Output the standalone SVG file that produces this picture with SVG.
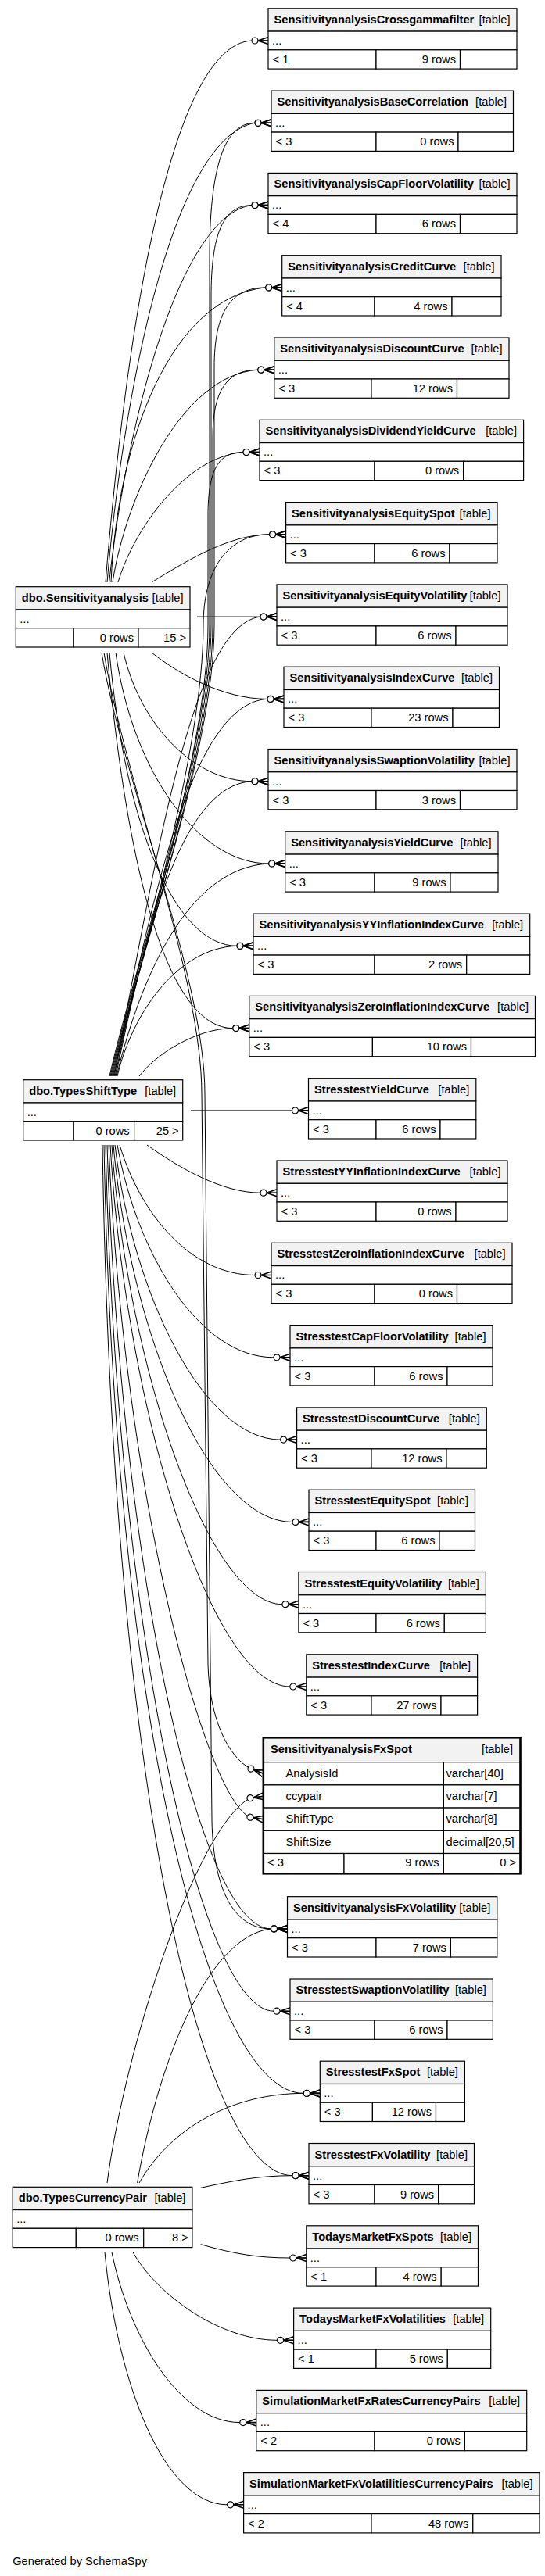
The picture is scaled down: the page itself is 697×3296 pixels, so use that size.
<svg xmlns="http://www.w3.org/2000/svg" width="697" height="3296" viewBox="0 0 697 3296">
<style>
.h{fill:#f2f2f2;stroke:#000;stroke-width:1.2}
.c{fill:#fff;stroke:#000;stroke-width:1.2}
.t{font-family:"Liberation Sans",Arial,sans-serif;font-size:14.67px;fill:#000}
.b{font-weight:bold}
.e{text-anchor:end}
#edges path{fill:none;stroke:#000;stroke-width:1;marker-end:url(#cf)}
</style>
<defs>
<marker id="cf" markerUnits="userSpaceOnUse" markerWidth="24" markerHeight="14" viewBox="-23 -7 24 14" refX="0" refY="0" orient="auto" overflow="visible">
<path d="M-13,0 L0,-4.5 M-13,0 L0,4.5 M-13,0 L0,0" fill="none" stroke="#000" stroke-width="1.6"/>
<circle cx="-17" cy="0" r="4" fill="#fff" stroke="#000" stroke-width="1.2"/>
</marker>
</defs>
<rect x="0" y="0" width="697" height="3296" fill="#fff"/>
<g id="edges">
<path d="M135,745 C160,440 215,58 322,52 L343,52"/>
<path d="M137,745 C160,480 225,175 326,157.3 L347,157.3"/>
<path d="M139.6,745 C162,540 230,275 322,262.6 L343,262.6"/>
<path d="M142,745 C150,560 220,380 339.7,367.9 L360.7,367.9"/>
<path d="M144,745 C160,640 230,480 329.8,473.2 L350.8,473.2"/>
<path d="M151,745 C170,680 235,585 311,578.5 L332,578.5"/>
<path d="M194,745 C232,722 290,684 344.6,683.8 L365.6,683.8"/>
<path d="M252,789.1 L354,789.1"/>
<path d="M194,835 C228,862 285,894.4 342,894.4 L363,894.4"/>
<path d="M158,835 C180,930 250,999.7 322,999.7 L343,999.7"/>
<path d="M148,835 C170,990 255,1105 343.7,1105 L364.7,1105"/>
<path d="M140,835 C160,1060 225,1210.3 303,1210.3 L324,1210.3"/>
<path d="M137,835 C165,1140 220,1315.6 297.8,1315.6 L318.8,1315.6"/>
<path d="M133,835 C160,1000 258,1250 258,1400 L266,2130 C268,2200 292,2248 320.5,2263 L336.8,2269.2"/>
<path d="M130,835 C157,1000 262,1250 262,1400 L271,2330 C273,2420 300,2467.9 346.5,2467.9 L367.5,2467.9"/>
<path d="M140,1377 C176,1220 268,960 268,800 L268,330 C268,220 285,157.3 326,157.3 L347,157.3"/>
<path d="M141,1377 C177,1220 270,960 270,800 L270,380 C270,300 285,262.6 322,262.6 L343,262.6"/>
<path d="M142,1377 C178,1220 274,960 274,800 L274,470 C274,400 295,367.9 339.7,367.9 L360.7,367.9"/>
<path d="M143,1377 C179,1220 272,960 272,800 L272,560 C272,500 290,473.2 329.8,473.2 L350.8,473.2"/>
<path d="M144,1377 C180,1220 266,960 266,800 L266,660 C266,600 280,578.5 311,578.5 L332,578.5"/>
<path d="M145,1377 C181,1220 260,960 260,800 C260,730 290,683.8 344.6,683.8 L365.6,683.8"/>
<path d="M146,1377 C200,1100 245,800 333,789.1 L354,789.1"/>
<path d="M147,1377 C195,1150 245,900 342,894.4 L363,894.4"/>
<path d="M148,1377 C185,1200 230,1005 322,999.7 L343,999.7"/>
<path d="M149,1377 C180,1250 240,1110 343.7,1105 L364.7,1105"/>
<path d="M150,1377 C168,1300 225,1213 303,1210.3 L324,1210.3"/>
<path d="M178,1377 C198,1350 250,1316 297.8,1315.6 L318.8,1315.6"/>
<path d="M244,1420.9 L394.5,1420.9"/>
<path d="M188,1465 C230,1495 285,1526.2 333,1526.2 L354,1526.2"/>
<path d="M153,1465 C180,1555 245,1631.5 326,1631.5 L347,1631.5"/>
<path d="M150,1465 C175,1605 255,1736.8 350,1736.8 L371,1736.8"/>
<path d="M147,1465 C170,1660 262,1842.1 358.6,1842.1 L379.6,1842.1"/>
<path d="M145,1465 C167,1710 268,1947.4 374,1947.4 L395,1947.4"/>
<path d="M143,1465 C164,1760 270,2052.7 360.9,2052.7 L381.9,2052.7"/>
<path d="M141,1465 C161,1810 272,2158 370.8,2158 L391.8,2158"/>
<path d="M139,1465 C158,1910 262,2300 319.8,2325.2 L336.8,2327.7"/>
<path d="M137,1465 C154,2010 255,2467.9 346.5,2467.9 L367.5,2467.9"/>
<path d="M135,1465 C150,2110 260,2573.2 350,2573.2 L371,2573.2"/>
<path d="M133,1465 C147,2210 268,2678.4 388.3,2678.4 L409.3,2678.4"/>
<path d="M131,1465 C144,2310 262,2783.7 374,2783.7 L395,2783.7"/>
<path d="M137,2793 C160,2620 250,2340 319.5,2300.7 L336.8,2298.3"/>
<path d="M175.6,2793 C200,2650 262,2478 346.5,2467.9 L367.5,2467.9"/>
<path d="M178,2793 C220,2720 300,2678.4 388.3,2678.4 L409.3,2678.4"/>
<path d="M256.7,2799.3 C300,2790 330,2783.7 374,2783.7 L395,2783.7"/>
<path d="M256.7,2871.7 C300,2884 330,2889 370.8,2889 L391.8,2889"/>
<path d="M170,2881.7 C200,2935 280,2994.3 354.6,2994.3 L375.6,2994.3"/>
<path d="M143,2881.7 C165,2990 230,3099.6 306.8,3099.6 L327.8,3099.6"/>
<path d="M134,2881.7 C150,3050 210,3204.8 290.6,3204.8 L311.6,3204.8"/>
</g>
<g id="n-sa">
<rect class="h" x="20.3" y="750.7" width="222.7" height="29.3"/>
<rect class="c" x="20.3" y="780" width="222.7" height="23.7"/>
<rect class="c" x="20.3" y="803.7" width="73.7" height="24.3"/>
<rect class="c" x="94" y="803.7" width="83" height="24.3"/>
<rect class="c" x="177" y="803.7" width="66" height="24.3"/>
<text class="t b" x="27.8" y="769.7">dbo.Sensitivityanalysis</text>
<text class="t e" x="234.5" y="769.7">[table]</text>
<text class="t" x="25.3" y="796.7">...</text>
<text class="t e" x="171" y="820.7">0 rows</text>
<text class="t e" x="238" y="820.7">15 &gt;</text>
</g>
<g id="n-st">
<rect class="h" x="29.7" y="1381.7" width="204" height="29.3"/>
<rect class="c" x="29.7" y="1411" width="204" height="23.7"/>
<rect class="c" x="29.7" y="1434.7" width="64.3" height="24.3"/>
<rect class="c" x="94" y="1434.7" width="77.6" height="24.3"/>
<rect class="c" x="171.6" y="1434.7" width="62.1" height="24.3"/>
<text class="t b" x="37.2" y="1400.7">dbo.TypesShiftType</text>
<text class="t e" x="225.2" y="1400.7">[table]</text>
<text class="t" x="34.7" y="1427.7">...</text>
<text class="t e" x="165.6" y="1451.7">0 rows</text>
<text class="t e" x="228.7" y="1451.7">25 &gt;</text>
</g>
<g id="n-cp">
<rect class="h" x="16.2" y="2798.3" width="229.7" height="29.3"/>
<rect class="c" x="16.2" y="2827.6" width="229.7" height="23.7"/>
<rect class="c" x="16.2" y="2851.3" width="81.1" height="24.3"/>
<rect class="c" x="97.3" y="2851.3" width="86.4" height="24.3"/>
<rect class="c" x="183.7" y="2851.3" width="62.2" height="24.3"/>
<text class="t b" x="23.7" y="2817.3">dbo.TypesCurrencyPair</text>
<text class="t e" x="237.4" y="2817.3">[table]</text>
<text class="t" x="21.2" y="2844.3">...</text>
<text class="t e" x="177.7" y="2868.3">0 rows</text>
<text class="t e" x="240.9" y="2868.3">8 &gt;</text>
</g>
<g id="n-crossgamma">
<rect class="h" x="343" y="10.8" width="318" height="29.3"/>
<rect class="c" x="343" y="40.1" width="318" height="23.7"/>
<rect class="c" x="343" y="63.8" width="138" height="24.3"/>
<rect class="c" x="481" y="63.8" width="107.5" height="24.3"/>
<rect class="c" x="588.5" y="63.8" width="72.5" height="24.3"/>
<text class="t b" x="350.5" y="29.8">SensitivityanalysisCrossgammafilter</text>
<text class="t e" x="652.5" y="29.8">[table]</text>
<text class="t" x="348" y="56.8">...</text>
<text class="t" x="348.5" y="80.8">&lt; 1</text>
<text class="t e" x="583" y="80.8">9 rows</text>
</g>
<g id="n-basecorrelation">
<rect class="h" x="347" y="116.1" width="309.5" height="29.3"/>
<rect class="c" x="347" y="145.4" width="309.5" height="23.7"/>
<rect class="c" x="347" y="169.1" width="134" height="24.3"/>
<rect class="c" x="481" y="169.1" width="105" height="24.3"/>
<rect class="c" x="586" y="169.1" width="70.5" height="24.3"/>
<text class="t b" x="354.5" y="135.1">SensitivityanalysisBaseCorrelation</text>
<text class="t e" x="648" y="135.1">[table]</text>
<text class="t" x="352" y="162.1">...</text>
<text class="t" x="352.5" y="186.1">&lt; 3</text>
<text class="t e" x="580.5" y="186.1">0 rows</text>
</g>
<g id="n-capfloor">
<rect class="h" x="343" y="221.4" width="318" height="29.3"/>
<rect class="c" x="343" y="250.7" width="318" height="23.7"/>
<rect class="c" x="343" y="274.4" width="138" height="24.3"/>
<rect class="c" x="481" y="274.4" width="107.5" height="24.3"/>
<rect class="c" x="588.5" y="274.4" width="72.5" height="24.3"/>
<text class="t b" x="350.5" y="240.4">SensitivityanalysisCapFloorVolatility</text>
<text class="t e" x="652.5" y="240.4">[table]</text>
<text class="t" x="348" y="267.4">...</text>
<text class="t" x="348.5" y="291.4">&lt; 4</text>
<text class="t e" x="583" y="291.4">6 rows</text>
</g>
<g id="n-creditcurve">
<rect class="h" x="360.7" y="326.7" width="280.3" height="29.3"/>
<rect class="c" x="360.7" y="356" width="280.3" height="23.7"/>
<rect class="c" x="360.7" y="379.7" width="118.3" height="24.3"/>
<rect class="c" x="479" y="379.7" width="99" height="24.3"/>
<rect class="c" x="578" y="379.7" width="63" height="24.3"/>
<text class="t b" x="368.2" y="345.7">SensitivityanalysisCreditCurve</text>
<text class="t e" x="632.5" y="345.7">[table]</text>
<text class="t" x="365.7" y="372.7">...</text>
<text class="t" x="366.2" y="396.7">&lt; 4</text>
<text class="t e" x="572.5" y="396.7">4 rows</text>
</g>
<g id="n-discountcurve">
<rect class="h" x="350.8" y="432" width="300.2" height="29.3"/>
<rect class="c" x="350.8" y="461.3" width="300.2" height="23.7"/>
<rect class="c" x="350.8" y="485" width="124.2" height="24.3"/>
<rect class="c" x="475" y="485" width="109.5" height="24.3"/>
<rect class="c" x="584.5" y="485" width="66.5" height="24.3"/>
<text class="t b" x="358.3" y="451">SensitivityanalysisDiscountCurve</text>
<text class="t e" x="642.5" y="451">[table]</text>
<text class="t" x="355.8" y="478">...</text>
<text class="t" x="356.3" y="502">&lt; 3</text>
<text class="t e" x="579" y="502">12 rows</text>
</g>
<g id="n-dividendyieldcurve">
<rect class="h" x="332" y="537.3" width="337.6" height="29.3"/>
<rect class="c" x="332" y="566.6" width="337.6" height="23.7"/>
<rect class="c" x="332" y="590.3" width="147" height="24.3"/>
<rect class="c" x="479" y="590.3" width="113.6" height="24.3"/>
<rect class="c" x="592.6" y="590.3" width="77" height="24.3"/>
<text class="t b" x="339.5" y="556.3">SensitivityanalysisDividendYieldCurve</text>
<text class="t e" x="661.1" y="556.3">[table]</text>
<text class="t" x="337" y="583.3">...</text>
<text class="t" x="337.5" y="607.3">&lt; 3</text>
<text class="t e" x="587.1" y="607.3">0 rows</text>
</g>
<g id="n-equityspot">
<rect class="h" x="365.6" y="642.6" width="270.4" height="29.3"/>
<rect class="c" x="365.6" y="671.9" width="270.4" height="23.7"/>
<rect class="c" x="365.6" y="695.6" width="113.4" height="24.3"/>
<rect class="c" x="479" y="695.6" width="96" height="24.3"/>
<rect class="c" x="575" y="695.6" width="61" height="24.3"/>
<text class="t b" x="373.1" y="661.6">SensitivityanalysisEquitySpot</text>
<text class="t e" x="627.5" y="661.6">[table]</text>
<text class="t" x="370.6" y="688.6">...</text>
<text class="t" x="371.1" y="712.6">&lt; 3</text>
<text class="t e" x="569.5" y="712.6">6 rows</text>
</g>
<g id="n-equityvolatility">
<rect class="h" x="354" y="747.9" width="295" height="29.3"/>
<rect class="c" x="354" y="777.2" width="295" height="23.7"/>
<rect class="c" x="354" y="800.9" width="127" height="24.3"/>
<rect class="c" x="481" y="800.9" width="102" height="24.3"/>
<rect class="c" x="583" y="800.9" width="66" height="24.3"/>
<text class="t b" x="361.5" y="766.9">SensitivityanalysisEquityVolatility</text>
<text class="t e" x="640.5" y="766.9">[table]</text>
<text class="t" x="359" y="793.9">...</text>
<text class="t" x="359.5" y="817.9">&lt; 3</text>
<text class="t e" x="577.5" y="817.9">6 rows</text>
</g>
<g id="n-indexcurve">
<rect class="h" x="363" y="853.2" width="275.5" height="29.3"/>
<rect class="c" x="363" y="882.5" width="275.5" height="23.7"/>
<rect class="c" x="363" y="906.2" width="112" height="24.3"/>
<rect class="c" x="475" y="906.2" width="104" height="24.3"/>
<rect class="c" x="579" y="906.2" width="59.5" height="24.3"/>
<text class="t b" x="370.5" y="872.2">SensitivityanalysisIndexCurve</text>
<text class="t e" x="630" y="872.2">[table]</text>
<text class="t" x="368" y="899.2">...</text>
<text class="t" x="368.5" y="923.2">&lt; 3</text>
<text class="t e" x="573.5" y="923.2">23 rows</text>
</g>
<g id="n-swaptionvolatility">
<rect class="h" x="343" y="958.5" width="318" height="29.3"/>
<rect class="c" x="343" y="987.8" width="318" height="23.7"/>
<rect class="c" x="343" y="1011.5" width="138" height="24.3"/>
<rect class="c" x="481" y="1011.5" width="107.5" height="24.3"/>
<rect class="c" x="588.5" y="1011.5" width="72.5" height="24.3"/>
<text class="t b" x="350.5" y="977.5">SensitivityanalysisSwaptionVolatility</text>
<text class="t e" x="652.5" y="977.5">[table]</text>
<text class="t" x="348" y="1004.5">...</text>
<text class="t" x="348.5" y="1028.5">&lt; 3</text>
<text class="t e" x="583" y="1028.5">3 rows</text>
</g>
<g id="n-yieldcurve">
<rect class="h" x="364.7" y="1063.8" width="272.3" height="29.3"/>
<rect class="c" x="364.7" y="1093.1" width="272.3" height="23.7"/>
<rect class="c" x="364.7" y="1116.8" width="114.3" height="24.3"/>
<rect class="c" x="479" y="1116.8" width="97" height="24.3"/>
<rect class="c" x="576" y="1116.8" width="61" height="24.3"/>
<text class="t b" x="372.2" y="1082.8">SensitivityanalysisYieldCurve</text>
<text class="t e" x="628.5" y="1082.8">[table]</text>
<text class="t" x="369.7" y="1109.8">...</text>
<text class="t" x="370.2" y="1133.8">&lt; 3</text>
<text class="t e" x="570.5" y="1133.8">9 rows</text>
</g>
<g id="n-yyinflation">
<rect class="h" x="324" y="1169.1" width="353.7" height="29.3"/>
<rect class="c" x="324" y="1198.4" width="353.7" height="23.7"/>
<rect class="c" x="324" y="1222.1" width="155" height="24.3"/>
<rect class="c" x="479" y="1222.1" width="117.7" height="24.3"/>
<rect class="c" x="596.7" y="1222.1" width="81" height="24.3"/>
<text class="t b" x="331.5" y="1188.1">SensitivityanalysisYYInflationIndexCurve</text>
<text class="t e" x="669.2" y="1188.1">[table]</text>
<text class="t" x="329" y="1215.1">...</text>
<text class="t" x="329.5" y="1239.1">&lt; 3</text>
<text class="t e" x="591.2" y="1239.1">2 rows</text>
</g>
<g id="n-zeroinflation">
<rect class="h" x="318.8" y="1274.4" width="365.7" height="29.3"/>
<rect class="c" x="318.8" y="1303.7" width="365.7" height="23.7"/>
<rect class="c" x="318.8" y="1327.4" width="157.6" height="24.3"/>
<rect class="c" x="476.4" y="1327.4" width="126.1" height="24.3"/>
<rect class="c" x="602.5" y="1327.4" width="82" height="24.3"/>
<text class="t b" x="326.3" y="1293.4">SensitivityanalysisZeroInflationIndexCurve</text>
<text class="t e" x="676" y="1293.4">[table]</text>
<text class="t" x="323.8" y="1320.4">...</text>
<text class="t" x="324.3" y="1344.4">&lt; 3</text>
<text class="t e" x="597" y="1344.4">10 rows</text>
</g>
<g id="n-st-yieldcurve">
<rect class="h" x="394.5" y="1379.7" width="214.3" height="29.3"/>
<rect class="c" x="394.5" y="1409" width="214.3" height="23.7"/>
<rect class="c" x="394.5" y="1432.7" width="86.5" height="24.3"/>
<rect class="c" x="481" y="1432.7" width="82" height="24.3"/>
<rect class="c" x="563" y="1432.7" width="45.8" height="24.3"/>
<text class="t b" x="402" y="1398.7">StresstestYieldCurve</text>
<text class="t e" x="600.3" y="1398.7">[table]</text>
<text class="t" x="399.5" y="1425.7">...</text>
<text class="t" x="400" y="1449.7">&lt; 3</text>
<text class="t e" x="557.5" y="1449.7">6 rows</text>
</g>
<g id="n-st-yyinflation">
<rect class="h" x="354" y="1485" width="295" height="29.3"/>
<rect class="c" x="354" y="1514.3" width="295" height="23.7"/>
<rect class="c" x="354" y="1538" width="127" height="24.3"/>
<rect class="c" x="481" y="1538" width="102" height="24.3"/>
<rect class="c" x="583" y="1538" width="66" height="24.3"/>
<text class="t b" x="361.5" y="1504">StresstestYYInflationIndexCurve</text>
<text class="t e" x="640.5" y="1504">[table]</text>
<text class="t" x="359" y="1531">...</text>
<text class="t" x="359.5" y="1555">&lt; 3</text>
<text class="t e" x="577.5" y="1555">0 rows</text>
</g>
<g id="n-st-zeroinflation">
<rect class="h" x="347" y="1590.3" width="308" height="29.3"/>
<rect class="c" x="347" y="1619.6" width="308" height="23.7"/>
<rect class="c" x="347" y="1643.3" width="132" height="24.3"/>
<rect class="c" x="479" y="1643.3" width="105.5" height="24.3"/>
<rect class="c" x="584.5" y="1643.3" width="70.5" height="24.3"/>
<text class="t b" x="354.5" y="1609.3">StresstestZeroInflationIndexCurve</text>
<text class="t e" x="646.5" y="1609.3">[table]</text>
<text class="t" x="352" y="1636.3">...</text>
<text class="t" x="352.5" y="1660.3">&lt; 3</text>
<text class="t e" x="579" y="1660.3">0 rows</text>
</g>
<g id="n-st-capfloor">
<rect class="h" x="371" y="1695.6" width="259" height="29.3"/>
<rect class="c" x="371" y="1724.9" width="259" height="23.7"/>
<rect class="c" x="371" y="1748.6" width="108" height="24.3"/>
<rect class="c" x="479" y="1748.6" width="93" height="24.3"/>
<rect class="c" x="572" y="1748.6" width="58" height="24.3"/>
<text class="t b" x="378.5" y="1714.6">StresstestCapFloorVolatility</text>
<text class="t e" x="621.5" y="1714.6">[table]</text>
<text class="t" x="376" y="1741.6">...</text>
<text class="t" x="376.5" y="1765.6">&lt; 3</text>
<text class="t e" x="566.5" y="1765.6">6 rows</text>
</g>
<g id="n-st-discount">
<rect class="h" x="379.6" y="1800.9" width="242.7" height="29.3"/>
<rect class="c" x="379.6" y="1830.2" width="242.7" height="23.7"/>
<rect class="c" x="379.6" y="1853.9" width="95.4" height="24.3"/>
<rect class="c" x="475" y="1853.9" width="96" height="24.3"/>
<rect class="c" x="571" y="1853.9" width="51.3" height="24.3"/>
<text class="t b" x="387.1" y="1819.9">StresstestDiscountCurve</text>
<text class="t e" x="613.8" y="1819.9">[table]</text>
<text class="t" x="384.6" y="1846.9">...</text>
<text class="t" x="385.1" y="1870.9">&lt; 3</text>
<text class="t e" x="565.5" y="1870.9">12 rows</text>
</g>
<g id="n-st-equityspot">
<rect class="h" x="395" y="1906.2" width="212.5" height="29.3"/>
<rect class="c" x="395" y="1935.5" width="212.5" height="23.7"/>
<rect class="c" x="395" y="1959.2" width="86" height="24.3"/>
<rect class="c" x="481" y="1959.2" width="81" height="24.3"/>
<rect class="c" x="562" y="1959.2" width="45.5" height="24.3"/>
<text class="t b" x="402.5" y="1925.2">StresstestEquitySpot</text>
<text class="t e" x="599" y="1925.2">[table]</text>
<text class="t" x="400" y="1952.2">...</text>
<text class="t" x="400.5" y="1976.2">&lt; 3</text>
<text class="t e" x="556.5" y="1976.2">6 rows</text>
</g>
<g id="n-st-equityvolatility">
<rect class="h" x="381.9" y="2011.5" width="239.5" height="29.3"/>
<rect class="c" x="381.9" y="2040.8" width="239.5" height="23.7"/>
<rect class="c" x="381.9" y="2064.5" width="99.1" height="24.3"/>
<rect class="c" x="481" y="2064.5" width="87.3" height="24.3"/>
<rect class="c" x="568.3" y="2064.5" width="53.1" height="24.3"/>
<text class="t b" x="389.4" y="2030.5">StresstestEquityVolatility</text>
<text class="t e" x="612.9" y="2030.5">[table]</text>
<text class="t" x="386.9" y="2057.5">...</text>
<text class="t" x="387.4" y="2081.5">&lt; 3</text>
<text class="t e" x="562.8" y="2081.5">6 rows</text>
</g>
<g id="n-st-indexcurve">
<rect class="h" x="391.8" y="2116.8" width="218.8" height="29.3"/>
<rect class="c" x="391.8" y="2146.1" width="218.8" height="23.7"/>
<rect class="c" x="391.8" y="2169.8" width="83.2" height="24.3"/>
<rect class="c" x="475" y="2169.8" width="89" height="24.3"/>
<rect class="c" x="564" y="2169.8" width="46.6" height="24.3"/>
<text class="t b" x="399.3" y="2135.8">StresstestIndexCurve</text>
<text class="t e" x="602.1" y="2135.8">[table]</text>
<text class="t" x="396.8" y="2162.8">...</text>
<text class="t" x="397.3" y="2186.8">&lt; 3</text>
<text class="t e" x="558.5" y="2186.8">27 rows</text>
</g>
<g id="n-fxspot">
<rect class="h" x="336.8" y="2223.3" width="328.7" height="31.4"/>
<rect class="c" x="336.8" y="2254.7" width="230.6" height="29.2"/>
<rect class="c" x="567.4" y="2254.7" width="98.1" height="29.2"/>
<rect class="c" x="336.8" y="2283.9" width="230.6" height="29.2"/>
<rect class="c" x="567.4" y="2283.9" width="98.1" height="29.2"/>
<rect class="c" x="336.8" y="2313.1" width="230.6" height="29.2"/>
<rect class="c" x="567.4" y="2313.1" width="98.1" height="29.2"/>
<rect class="c" x="336.8" y="2342.3" width="230.6" height="29.2"/>
<rect class="c" x="567.4" y="2342.3" width="98.1" height="29.2"/>
<rect class="c" x="336.8" y="2371.5" width="103.2" height="25.8"/>
<rect class="c" x="440" y="2371.5" width="127.4" height="25.8"/>
<rect class="c" x="567.4" y="2371.5" width="98.1" height="25.8"/>
<rect x="336.8" y="2223.3" width="328.7" height="174" fill="none" stroke="#000" stroke-width="2.6"/>
<text class="t b" x="346" y="2243">SensitivityanalysisFxSpot</text>
<text class="t e" x="656" y="2243">[table]</text>
<text class="t" x="365.6" y="2274">AnalysisId</text>
<text class="t" x="570.5" y="2274">varchar[40]</text>
<text class="t" x="365.6" y="2303.2">ccypair</text>
<text class="t" x="570.5" y="2303.2">varchar[7]</text>
<text class="t" x="365.6" y="2332.4">ShiftType</text>
<text class="t" x="570.5" y="2332.4">varchar[8]</text>
<text class="t" x="365.6" y="2361.6">ShiftSize</text>
<text class="t" x="570.5" y="2361.6">decimal[20,5]</text>
<text class="t" x="342" y="2388">&lt; 3</text>
<text class="t e" x="561.5" y="2388">9 rows</text>
<text class="t e" x="660" y="2388">0 &gt;</text>
</g>
<g id="n-fxvolatility">
<rect class="h" x="367.5" y="2426.7" width="268.3" height="29.3"/>
<rect class="c" x="367.5" y="2456" width="268.3" height="23.7"/>
<rect class="c" x="367.5" y="2479.7" width="113.5" height="24.3"/>
<rect class="c" x="481" y="2479.7" width="95.4" height="24.3"/>
<rect class="c" x="576.4" y="2479.7" width="59.4" height="24.3"/>
<text class="t b" x="375" y="2445.7">SensitivityanalysisFxVolatility</text>
<text class="t e" x="627.3" y="2445.7">[table]</text>
<text class="t" x="372.5" y="2472.7">...</text>
<text class="t" x="373" y="2496.7">&lt; 3</text>
<text class="t e" x="570.9" y="2496.7">7 rows</text>
</g>
<g id="n-st-swaption">
<rect class="h" x="371" y="2532" width="259.4" height="29.3"/>
<rect class="c" x="371" y="2561.3" width="259.4" height="23.7"/>
<rect class="c" x="371" y="2585" width="108" height="24.3"/>
<rect class="c" x="479" y="2585" width="93" height="24.3"/>
<rect class="c" x="572" y="2585" width="58.4" height="24.3"/>
<text class="t b" x="378.5" y="2551">StresstestSwaptionVolatility</text>
<text class="t e" x="621.9" y="2551">[table]</text>
<text class="t" x="376" y="2578">...</text>
<text class="t" x="376.5" y="2602">&lt; 3</text>
<text class="t e" x="566.5" y="2602">6 rows</text>
</g>
<g id="n-st-fxspot">
<rect class="h" x="409.3" y="2637.2" width="185.1" height="29.3"/>
<rect class="c" x="409.3" y="2666.5" width="185.1" height="23.7"/>
<rect class="c" x="409.3" y="2690.2" width="67.1" height="24.3"/>
<rect class="c" x="476.4" y="2690.2" width="81.1" height="24.3"/>
<rect class="c" x="557.5" y="2690.2" width="36.9" height="24.3"/>
<text class="t b" x="416.8" y="2656.2">StresstestFxSpot</text>
<text class="t e" x="585.9" y="2656.2">[table]</text>
<text class="t" x="414.3" y="2683.2">...</text>
<text class="t" x="414.8" y="2707.2">&lt; 3</text>
<text class="t e" x="552" y="2707.2">12 rows</text>
</g>
<g id="n-st-fxvolatility">
<rect class="h" x="395" y="2742.5" width="211.5" height="29.3"/>
<rect class="c" x="395" y="2771.8" width="211.5" height="23.7"/>
<rect class="c" x="395" y="2795.5" width="84" height="24.3"/>
<rect class="c" x="479" y="2795.5" width="81.6" height="24.3"/>
<rect class="c" x="560.6" y="2795.5" width="45.9" height="24.3"/>
<text class="t b" x="402.5" y="2761.5">StresstestFxVolatility</text>
<text class="t e" x="598" y="2761.5">[table]</text>
<text class="t" x="400" y="2788.5">...</text>
<text class="t" x="400.5" y="2812.5">&lt; 3</text>
<text class="t e" x="555.1" y="2812.5">9 rows</text>
</g>
<g id="n-todays-fxspots">
<rect class="h" x="391.8" y="2847.8" width="219.7" height="29.3"/>
<rect class="c" x="391.8" y="2877.1" width="219.7" height="23.7"/>
<rect class="c" x="391.8" y="2900.8" width="89.2" height="24.3"/>
<rect class="c" x="481" y="2900.8" width="83.2" height="24.3"/>
<rect class="c" x="564.2" y="2900.8" width="47.3" height="24.3"/>
<text class="t b" x="399.3" y="2866.8">TodaysMarketFxSpots</text>
<text class="t e" x="603" y="2866.8">[table]</text>
<text class="t" x="396.8" y="2893.8">...</text>
<text class="t" x="397.3" y="2917.8">&lt; 1</text>
<text class="t e" x="558.7" y="2917.8">4 rows</text>
</g>
<g id="n-todays-fxvolatilities">
<rect class="h" x="375.6" y="2953.1" width="252.1" height="29.3"/>
<rect class="c" x="375.6" y="2982.4" width="252.1" height="23.7"/>
<rect class="c" x="375.6" y="3006.1" width="105.4" height="24.3"/>
<rect class="c" x="481" y="3006.1" width="91.3" height="24.3"/>
<rect class="c" x="572.3" y="3006.1" width="55.4" height="24.3"/>
<text class="t b" x="383.1" y="2972.1">TodaysMarketFxVolatilities</text>
<text class="t e" x="619.2" y="2972.1">[table]</text>
<text class="t" x="380.6" y="2999.1">...</text>
<text class="t" x="381.1" y="3023.1">&lt; 1</text>
<text class="t e" x="566.8" y="3023.1">5 rows</text>
</g>
<g id="n-sim-fxrates">
<rect class="h" x="327.8" y="3058.4" width="345.9" height="29.3"/>
<rect class="c" x="327.8" y="3087.7" width="345.9" height="23.7"/>
<rect class="c" x="327.8" y="3111.4" width="151.2" height="24.3"/>
<rect class="c" x="479" y="3111.4" width="115.4" height="24.3"/>
<rect class="c" x="594.4" y="3111.4" width="79.3" height="24.3"/>
<text class="t b" x="335.3" y="3077.4">SimulationMarketFxRatesCurrencyPairs</text>
<text class="t e" x="665.2" y="3077.4">[table]</text>
<text class="t" x="332.8" y="3104.4">...</text>
<text class="t" x="333.3" y="3128.4">&lt; 2</text>
<text class="t e" x="588.9" y="3128.4">0 rows</text>
</g>
<g id="n-sim-fxvolatilities">
<rect class="h" x="311.6" y="3163.6" width="378.4" height="29.3"/>
<rect class="c" x="311.6" y="3192.9" width="378.4" height="23.7"/>
<rect class="c" x="311.6" y="3216.6" width="163.4" height="24.3"/>
<rect class="c" x="475" y="3216.6" width="129.8" height="24.3"/>
<rect class="c" x="604.8" y="3216.6" width="85.2" height="24.3"/>
<text class="t b" x="319.1" y="3182.6">SimulationMarketFxVolatilitiesCurrencyPairs</text>
<text class="t e" x="681.5" y="3182.6">[table]</text>
<text class="t" x="316.6" y="3209.6">...</text>
<text class="t" x="317.1" y="3233.6">&lt; 2</text>
<text class="t e" x="599.3" y="3233.6">48 rows</text>
</g>
<text class="t" x="16.2" y="3281.5">Generated by SchemaSpy</text>
</svg>
